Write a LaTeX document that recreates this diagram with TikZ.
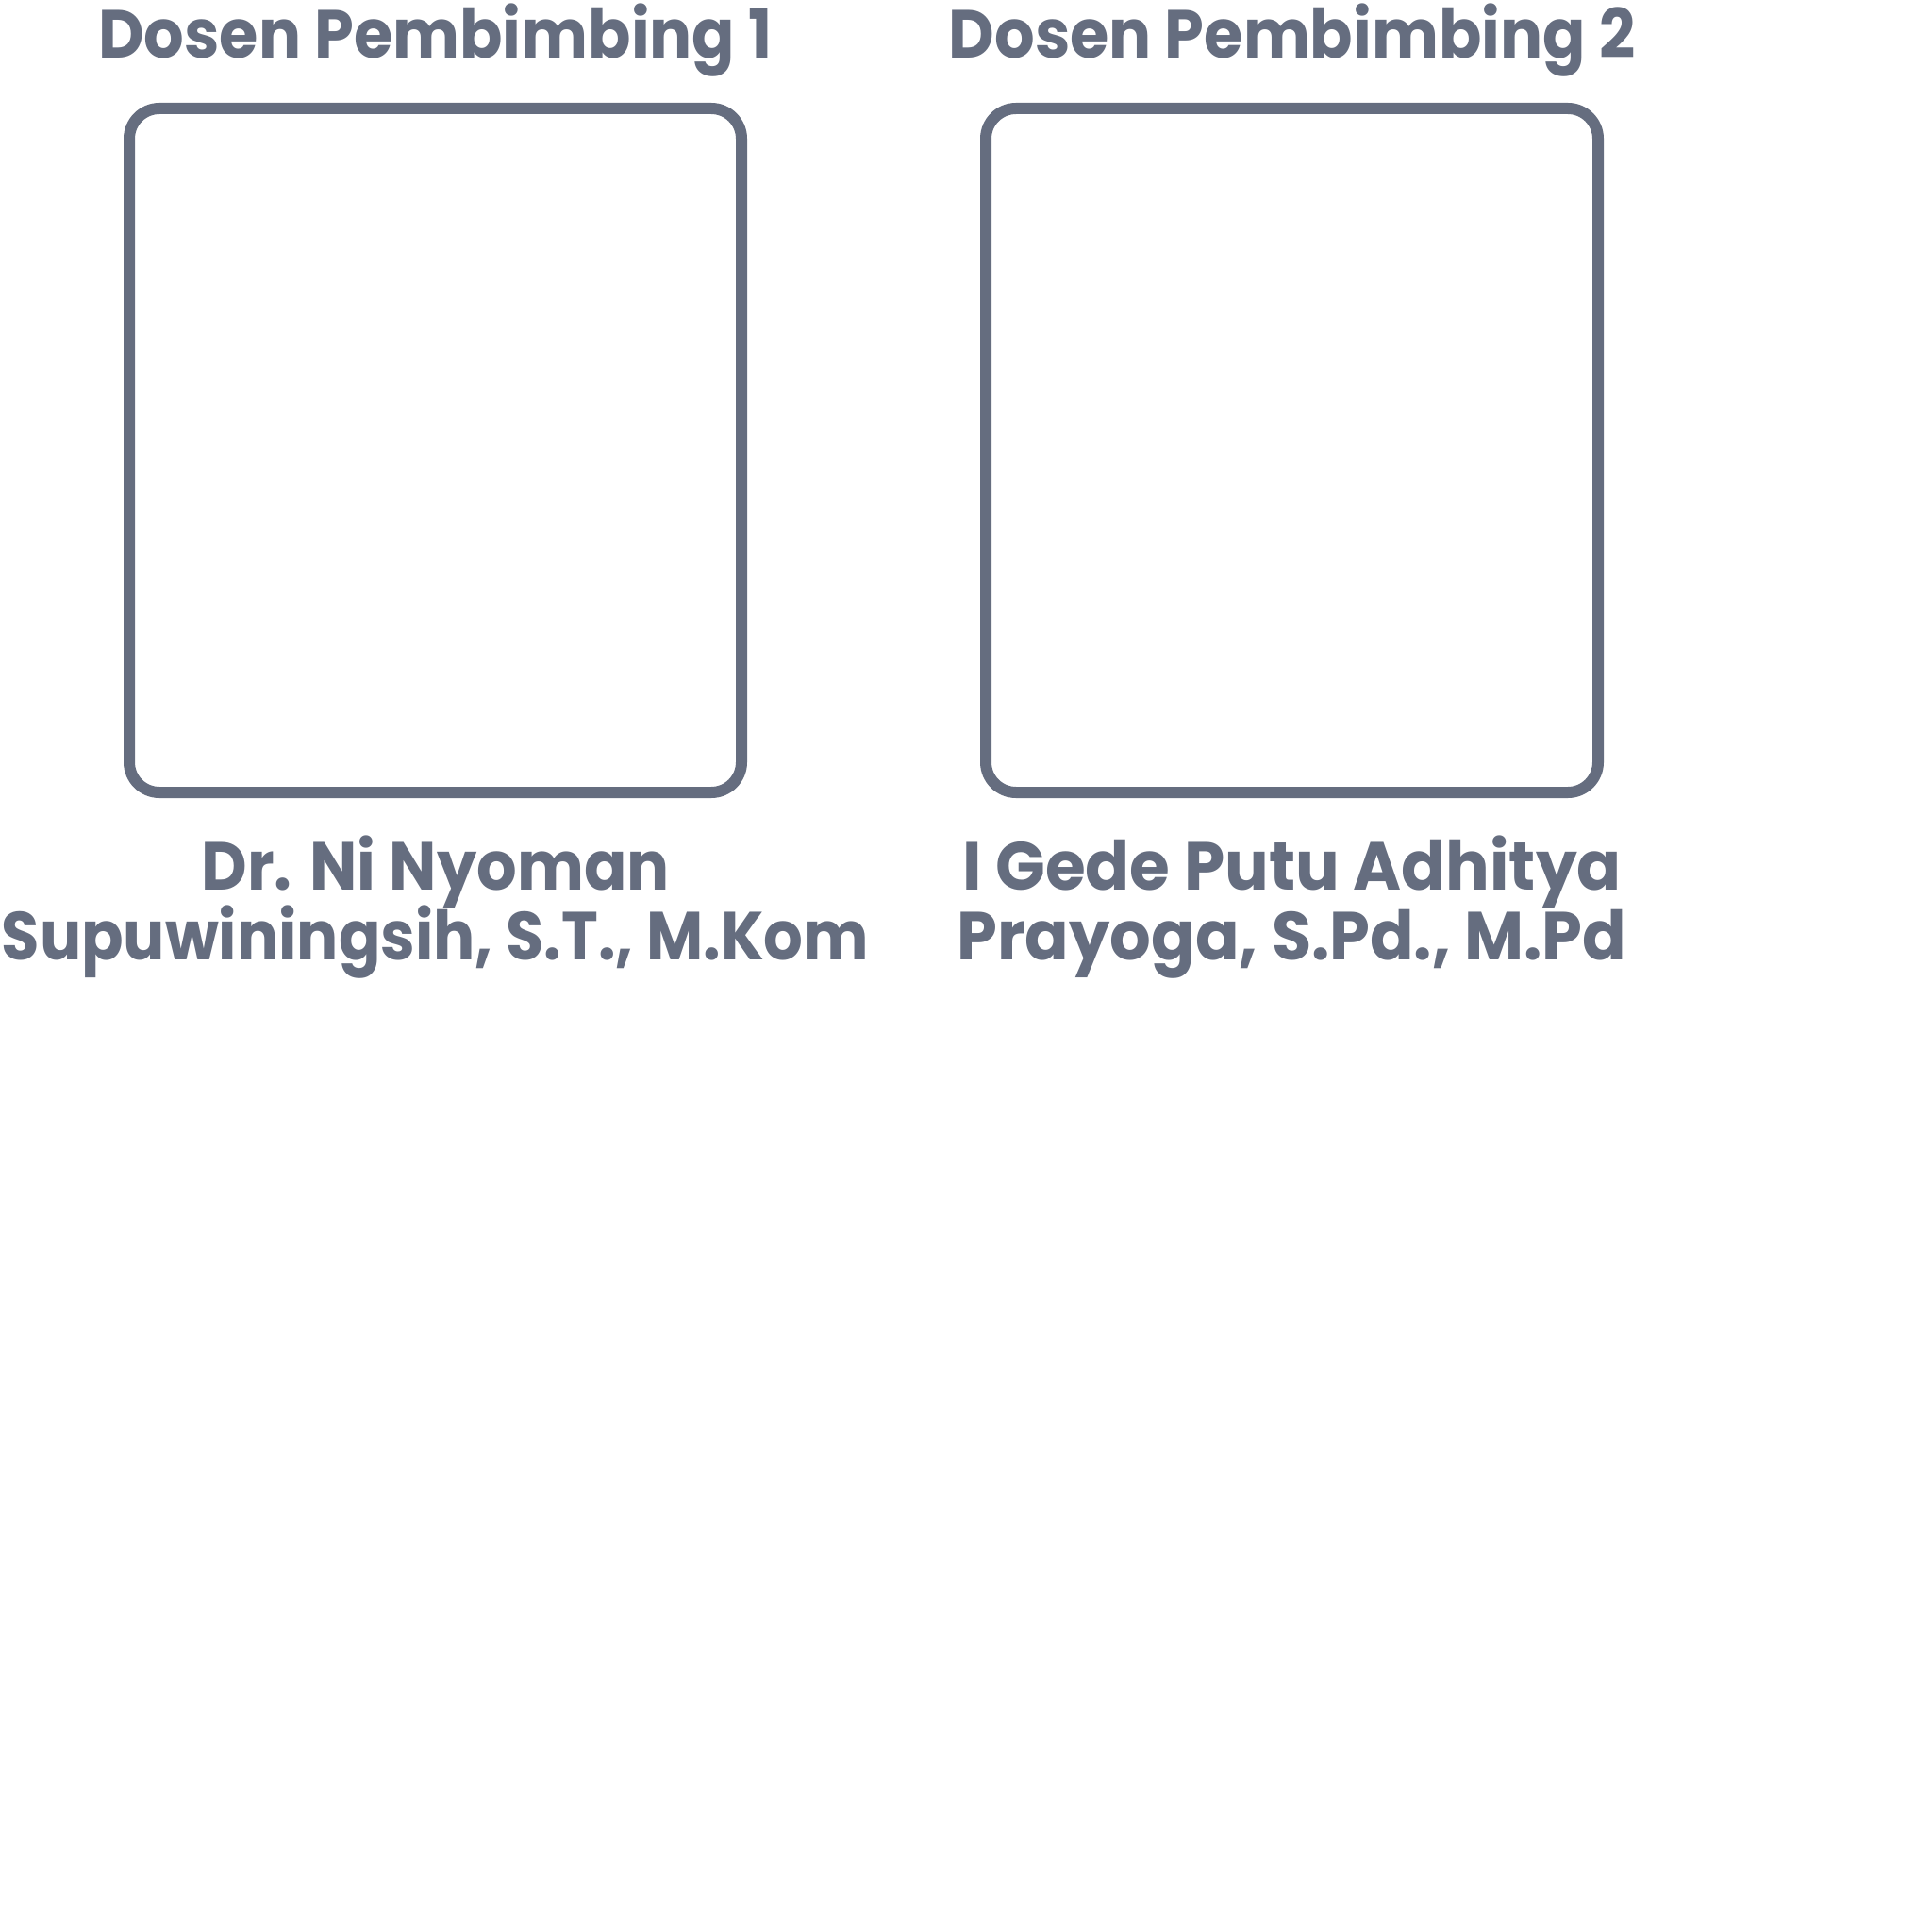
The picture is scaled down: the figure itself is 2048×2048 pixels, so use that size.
\documentclass[tikz,border=0pt]{standalone}
\usepackage{fontspec}
\usepackage{graphicx}
\setmainfont{Poppins}[FakeStretch=0.93]
\definecolor{slate}{HTML}{656D7F}
\begin{document}
\begin{tikzpicture}[x=0.5pt,y=-0.5pt,
  frame/.style={draw=slate,line width=6pt,rounded corners=16pt},
  lbl/.style={text=slate,font=\fontsize{36}{37.5}\selectfont\bfseries,inner sep=0pt,align=center}]
\useasboundingbox (0,0) rectangle (2048,2048);
\draw[frame] (137,115) rectangle (786,840);
\draw[frame] (1045,115) rectangle (1694,840);
\node[lbl,anchor=base] (t1) at (461.5,62) {Dosen Pembimbing 1};
\node[lbl,anchor=base] (t2) at (1369.5,62) {Dosen Pembimbing 2};
\node[lbl,anchor=base] (n1a) at (461.5,943) {Dr. Ni Nyoman};
\node[lbl,anchor=base] (n1b) at (461.5,1017) {\scalebox{0.98}[1]{Supuwiningsih, S.T., M.Kom}};
\node[lbl,anchor=base] (n2a) at (1369.5,943) {\scalebox{1.035}[1]{I Gede Putu Adhitya}};
\node[lbl,anchor=base] (n2b) at (1369.5,1017) {\scalebox{1.025}[1]{Prayoga, S.Pd., M.Pd}};
\end{tikzpicture}
\end{document}
